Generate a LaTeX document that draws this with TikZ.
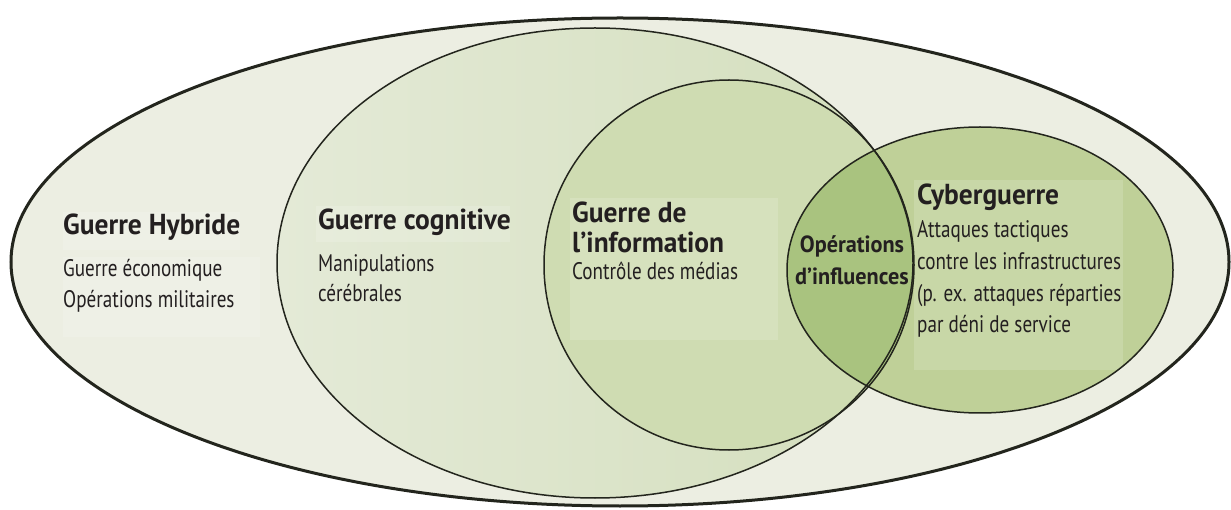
\documentclass[tikz,border=0pt]{standalone}
\usepackage{fontspec}
\newfontfamily\dgfont[FakeStretch=0.80]{PT Sans}
\newfontfamily\dgbold[FakeStretch=0.95]{PT Sans Bold}
\definecolor{outerfill}{HTML}{ECEEE2}
\definecolor{cogleft}{HTML}{E4EAD7}
\definecolor{cogright}{HTML}{D3DEBC}
\definecolor{infofill}{HTML}{CFDCB2}
\definecolor{cyberfill}{HTML}{BFD098}
\definecolor{overlapfill}{HTML}{A9C37F}
\definecolor{rim}{HTML}{23251D}
\definecolor{ink}{HTML}{231F20}
\tikzset{
  innerrim/.style={draw=rim, line width=1.5bp},
  textpanel/.style={fill=white, opacity=0.15, draw=none},
  headline/.style={anchor=base west, inner sep=0pt, text=ink,
    font=\dgbold\fontsize{29}{31}\selectfont},
  bodyline/.style={anchor=base west, inner sep=0pt, text=ink,
    font=\dgfont\fontsize{24}{27}\selectfont},
  overlapline/.style={anchor=base, inner sep=0pt, text=ink,
    font=\dgbold\fontsize{23.5}{25}\selectfont}
}
\begin{document}
\begin{tikzpicture}[x=1bp, y=-1bp]
\useasboundingbox (0,0) rectangle (1231,510);

% hybrid warfare: the outer envelope
\fill[outerfill] (620,262) ellipse [x radius=609, y radius=244];

% cognitive warfare, lighter towards the left
\shade[left color=cogleft, right color=cogright]
  (595,263) ellipse [x radius=318, y radius=235];

% information warfare
\fill[infofill] (729,265) circle [radius=185];

% cyber warfare
\fill[cyberfill] (980,270) ellipse [x radius=193, y radius=143];

% influence operations: information circle meets cyber ellipse
\begin{scope}
  \clip (729,265) circle [radius=185];
  \fill[overlapfill] (980,270) ellipse [x radius=193, y radius=143];
\end{scope}

% faint panels behind the captions
\fill[textpanel] (63,212) rectangle (240,250);
\fill[textpanel] (63,257) rectangle (260,337);
\fill[textpanel] (316,206) rectangle (510,242);
\fill[textpanel] (570,198) rectangle (778,340);
\fill[textpanel] (914,180) rectangle (1123,370);

% outlines
\draw[innerrim] (595,263) ellipse [x radius=318, y radius=235];
\draw[innerrim] (729,265) circle [radius=185];
\draw[innerrim] (980,270) ellipse [x radius=193, y radius=143];
\draw[draw=rim, line width=3bp] (620,262) ellipse [x radius=609, y radius=244];

% captions
\node[headline] (hyb)  at (63,235) {Guerre Hybride};
\node[bodyline] (hyb1) at (63,277) {Guerre économique};
\node[bodyline] (hyb2) at (63,308) {Opérations militaires};

\node[headline] (cog)  at (318,230) {Guerre cognitive};
\node[bodyline] (cog1) at (318,272) {Manipulations};
\node[bodyline] (cog2) at (318,302) {cérébrales};

\node[headline] (inf)  at (572,223) {Guerre de};
\node[headline] (infb) at (572,253) {l’information};
\node[bodyline] (inf1) at (572,280) {Contrôle des médias};

\node[overlapline] (ops)  at (852,253) {Opérations};
\node[overlapline] (opsb) at (852,285) {d’influences};

\node[headline] (cyb)  at (917,205) {Cyberguerre};
\node[bodyline] (cyb1) at (917,238) {Attaques tactiques};
\node[bodyline] (cyb2) at (917,270) {contre les infrastructures};
\node[bodyline] (cyb3) at (917,302) {(p. ex. attaques réparties};
\node[bodyline] (cyb4) at (917,333) {par déni de service};
\end{tikzpicture}
\end{document}
